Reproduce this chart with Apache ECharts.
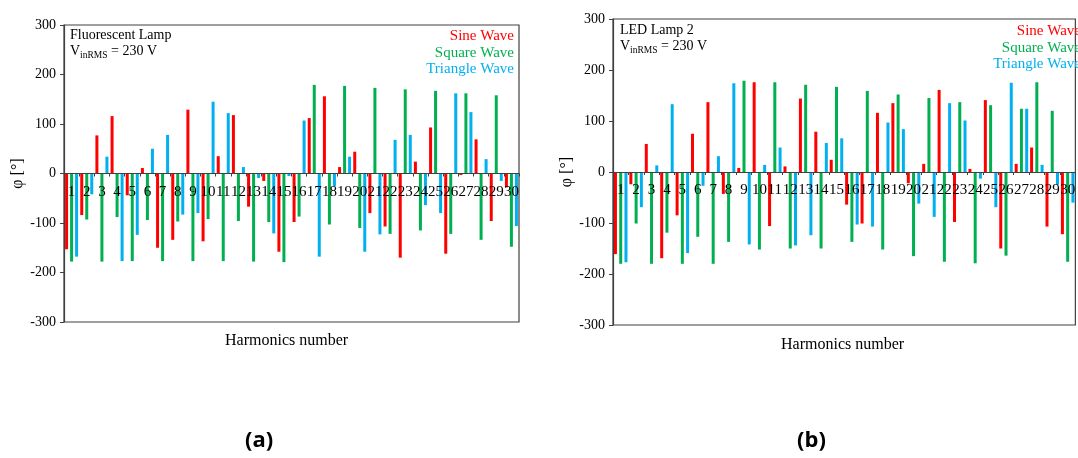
<!DOCTYPE html>
<html>
<head>
<meta charset="utf-8">
<script src="https://cdn.jsdelivr.net/npm/echarts@6/dist/echarts.min.js"></script>
<style>html,body{margin:0;padding:0;background:#fff}#c{width:1078px;height:458px}</style>
</head>
<body>
<div id="c"></div>
<script>
var harmonics = [];
for (var i = 1; i <= 30; i++) harmonics.push(String(i));
var yTicks = [-300, -200, -100, 0, 100, 200, 300];

// Panel (a) Fluorescent Lamp
var flSine = [-153, -84, 77, 116, -44, 11, -150, -134, 129, -137, 35, 118, -67, -15, -158, -98, 112, 156, 13, 44, -80, -107, -170, 24, 93, -162, -3, 69, -96, -28];
var flSquare = [-178, -93, -178, -88, -177, -94, -177, -97, -177, -92, -177, -96, -178, -98, -179, -87, 179, -103, 177, -110, 173, -122, 170, -115, 167, -122, 162, -134, 158, -148];
var flTriangle = [-168, -42, 34, -177, -124, 50, 78, -83, -80, 145, 122, 13, -9, -121, -5, 107, -168, -26, 34, -158, -123, 68, 78, -64, -80, 162, 124, 29, -15, -106];

// Panel (b) LED Lamp 2
var ledSine = [-161, -24, 55, -169, -85, 75, 137, -43, 8, 176, -106, 11, 144, 79, 24, -64, -101, 116, 135, -22, 16, 161, -98, 6, 141, -150, 16, 48, -107, -122];
var ledSquare = [-180, -101, -180, -119, -180, -127, -180, -137, 179, -152, 176, -150, 171, -150, 167, -137, 159, -152, 152, -165, 145, -176, 137, -179, 131, -164, 124, 176, 120, -176];
var ledTriangle = [-177, -69, 13, 133, -159, -27, 31, 174, -142, 14, 48, -144, -124, 57, 66, -103, -107, 97, 84, -62, -88, 135, 101, -13, -69, 175, 124, 14, -25, -60];

var seriesNames = ['Sine Wave', 'Square Wave', 'Triangle Wave'];
var colors = ['#ff0000', '#00b050', '#00b0f0'];
var SERIF = '"Liberation Serif", "Times New Roman", serif';

var grids = [
  { left: 64, top: 25, width: 455, height: 297 },
  { left: 613, top: 19, width: 472, height: 306 }
];

function xAxisCfg(gi) {
  // place the category axis at value 0 (middle of the symmetric -300..300 range)
  return {
    type: 'category', gridIndex: gi, data: harmonics, position: 'bottom',
    offset: -grids[gi].height / 2, z: 5,
    axisLine: { show: true, onZero: false, lineStyle: { color: '#404040', width: 1.2 } },
    axisTick: { show: true, length: 3, lineStyle: { color: '#404040' } },
    axisLabel: { interval: 0, hideOverlap: false, color: '#000', fontFamily: SERIF, fontSize: 15, margin: 11 },
    splitLine: { show: false }
  };
}
function yAxisCfg(gi) {
  return {
    type: 'value', gridIndex: gi, min: yTicks[0], max: yTicks[yTicks.length - 1], interval: 100,
    name: 'φ [°]', nameLocation: 'middle', nameGap: 38,
    nameTextStyle: { fontFamily: SERIF, fontSize: 16, color: '#000' },
    axisLine: { show: true, onZero: false, lineStyle: { color: '#404040', width: 1.2 } },
    axisTick: { show: true, length: 4, lineStyle: { color: '#404040' } },
    axisLabel: { color: '#000', fontFamily: SERIF, fontSize: 14, margin: 8 },
    splitLine: { show: false }
  };
}
function bar(name, data, gi, color, gap) {
  return {
    type: 'bar', name: name, xAxisIndex: gi, yAxisIndex: gi, data: data,
    barWidth: 3, barGap: gap, itemStyle: { color: color }, animation: false
  };
}
function legendCfg(right, top) {
  return {
    orient: 'vertical', right: right, top: top, padding: 0, align: 'right',
    icon: 'none', itemWidth: 0, itemHeight: 10, itemGap: 0, selectedMode: false,
    data: seriesNames.map(function (n, k) {
      return { name: n, textStyle: { color: colors[k] } };
    }),
    textStyle: { fontFamily: SERIF, fontSize: 15, lineHeight: 16.5 }
  };
}
function panelText(x, y, title) {
  return [
    { type: 'text', left: x, top: y, style: { text: title, font: '14px ' + SERIF, fill: '#000' } },
    { type: 'text', left: x, top: y + 16, style: {
      text: 'V{sub|inRMS} = 230 V', font: '14px ' + SERIF, fill: '#000',
      rich: { sub: { fontSize: 9.5, fontFamily: SERIF, padding: [9, 0, 0, 0] } }
    } }
  ];
}

var chart = echarts.init(document.getElementById('c'));
chart.setOption({
  backgroundColor: '#fff',
  animation: false,
  grid: grids.map(function (g) {
    return { left: g.left, top: g.top, width: g.width, height: g.height, show: true,
             borderColor: '#404040', borderWidth: 1.2, containLabel: false };
  }),
  xAxis: [xAxisCfg(0), xAxisCfg(1)],
  yAxis: [yAxisCfg(0), yAxisCfg(1)],
  legend: [legendCfg(559, 28), legendCfg(-8, 23)],
  series: [
    bar(seriesNames[0], flSine, 0, colors[0], '67%'),
    bar(seriesNames[1], flSquare, 0, colors[1], '67%'),
    bar(seriesNames[2], flTriangle, 0, colors[2], '67%'),
    bar(seriesNames[0], ledSine, 1, colors[0], '75%'),
    bar(seriesNames[1], ledSquare, 1, colors[1], '75%'),
    bar(seriesNames[2], ledTriangle, 1, colors[2], '75%')
  ],
  graphic: [].concat(
    panelText(70, 28, 'Fluorescent Lamp'),
    panelText(620, 23, 'LED Lamp 2'),
    [
      { type: 'text', left: 225, top: 333, style: { text: 'Harmonics number', font: '16px ' + SERIF, fill: '#000' } },
      { type: 'text', left: 781, top: 337, style: { text: 'Harmonics number', font: '16px ' + SERIF, fill: '#000' } },
      { type: 'text', left: 245, top: 430, style: { text: '(a)', font: 'bold 22px "Open Sans", Lato, sans-serif', fill: '#000' } },
      { type: 'text', left: 797, top: 430, style: { text: '(b)', font: 'bold 22px "Open Sans", Lato, sans-serif', fill: '#000' } }
    ]
  )
});
</script>
</body>
</html>
